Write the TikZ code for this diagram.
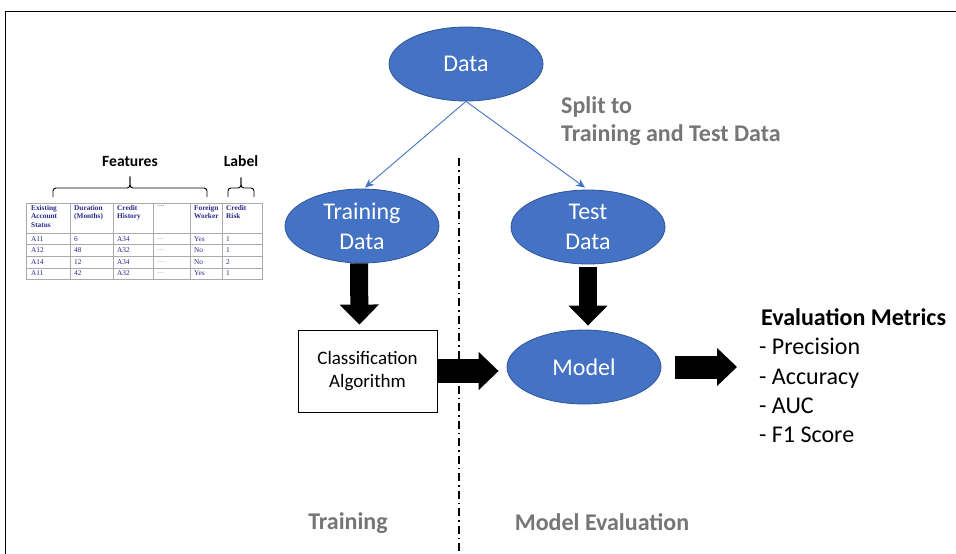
\documentclass[tikz,border=0pt]{standalone}
\usepackage{fontspec}
\setmainfont{Carlito}
\newfontfamily\tabfont{Liberation Serif}
\usetikzlibrary{shapes.geometric,arrows.meta,calc}
\definecolor{ellblue}{RGB}{68,114,196}
\definecolor{ellborder}{RGB}{47,85,151}
\definecolor{txtgray}{RGB}{118,118,118}
\definecolor{tabnavy}{RGB}{38,38,140}
\definecolor{tabdot}{RGB}{150,150,190}
\definecolor{tabline}{RGB}{170,170,170}
\tikzset{
  bluell/.style={ellipse, fill=ellblue, draw=ellborder, line width=0.8pt, minimum width=154pt, minimum height=74pt, inner sep=0pt, text=white, align=center, font=\fontsize{24}{30}\selectfont},
  splitline/.style={draw=ellblue, line width=0.9pt, -{Stealth[length=9pt,width=8pt]}},
  fatdown/.style={line width=18pt, -{Triangle[width=38pt,length=20pt]}},
  fatright/.style={line width=24pt, -{Triangle[width=37pt,length=20pt]}},
  graybold/.style={text=txtgray, font=\fontsize{24}{29}\selectfont\bfseries, inner sep=0pt, anchor=base west},
  metric/.style={font=\fontsize{24}{29}\selectfont, inner sep=0pt, anchor=base west},
  thead/.style={font=\tabfont\bfseries\fontsize{7.3}{8.7}\selectfont, text=tabnavy, inner sep=0pt, anchor=north west, align=left},
  tcell/.style={font=\tabfont\fontsize{7.3}{8}\selectfont, text=tabnavy, inner sep=0pt, anchor=west},
  tdots/.style={font=\tabfont\fontsize{7.3}{8}\selectfont, text=tabdot, inner sep=0pt, anchor=west},
}
\begin{document}
\begin{tikzpicture}[x=1pt,y=-1pt]
\useasboundingbox (0,0) rectangle (956,554);
% frame
\draw[line width=1pt] (5,554) -- (5,11) -- (956,11);

% divider
\draw[line width=1.8pt, dash pattern=on 8pt off 4pt on 1.5pt off 4pt] (459,158) coordinate (divtop) -- (459,554) coordinate (divbot);

% ellipses
\node[bluell] (data) at (466,64) {Data};
\node[bluell] (train) at (362,226) {Training\\Data};
\node[bluell] (test) at (588,227) {Test\\Data};
\node[bluell] (model) at (584,367) {Model};

% classification box
\node[draw, line width=0.8pt, minimum width=139pt, minimum height=82pt, inner sep=0pt, align=center, font=\fontsize{19}{23}\selectfont] (cls) at (367.5,371) {Classification\\Algorithm};

% split lines
\draw[splitline] (data.south) -- ($(train.north)+(3,-1)$);
\draw[splitline] (data.south) -- ($(test.north)+(-3,-2)$);

% fat arrows
\draw[fatdown, shorten >=5pt] ($(train.south)+(-3,0)$) -- ($(cls.north)+(-8,0)$);
\draw[fatdown, shorten >=4pt] ($(test.south)+(0,3)$) -- (test.south |- model.north);
\draw[fatright, shorten >=8pt] (cls.east) -- (cls.east -| model.west);
\coordinate (evalpt) at (737,367);
\draw[fatright, line width=23pt] ($(model.east)+(14,0)$) -- (evalpt);

% split text
\node[graybold] (split1) at (561,113) {Split to};
\node[graybold] (split2) at (561,141) {Training and Test Data};

% evaluation metrics
\node[metric, font=\fontsize{24}{29}\selectfont\bfseries] (em) at (761,325) {Evaluation Metrics};
\node[metric] (m1) at (759,354) {- Precision};
\node[metric] (m2) at (759,384) {- Accuracy};
\node[metric] (m3) at (759,413) {- AUC};
\node[metric] (m4) at (759,442) {- F1 Score};

% bottom labels
\node[graybold, anchor=base] (lbtrain) at (348,529) {Training};
\node[graybold, anchor=base] (lbeval) at (602,530) {Model Evaluation};

% braces and labels
\node[font=\fontsize{15.6}{18}\selectfont\bfseries, inner sep=0pt] (feat) at (130,161) {Features};
\node[font=\fontsize{15.6}{18}\selectfont\bfseries, inner sep=0pt] (lab) at (241,161) {Label};
\draw[line width=0.9pt, rounded corners=3pt] (53,197) |- (130,188) -- (130,176);
\draw[line width=0.9pt, rounded corners=3pt] (130,177) -- (130,188) -| (207,197);
\draw[line width=0.9pt, rounded corners=3pt] (228,197) |- (241,188) -- (241,177);
\draw[line width=0.9pt, rounded corners=3pt] (241,178) -- (241,188) -| (254,197);

% table grid
\draw[tabline, line width=0.8pt] (26,203) rectangle (262,279);
\foreach \yy in {233,244,256,268} \draw[tabline, line width=0.7pt] (26,\yy) -- (262,\yy);
\foreach \xx in {70,113,153,190,222} \draw[tabline, line width=0.7pt] (\xx,203) -- (\xx,279);

% table header
\node[thead] (h1) at (31,205) {Existing\\Account\\Status};
\node[thead] (h2) at (74,205) {Duration\\(Months)};
\node[thead] (h3) at (117,205) {Credit\\History};
\node[thead, text=tabdot] (h4) at (157,205) {....};
\node[thead] (h5) at (194,205) {Foreign\\Worker};
\node[thead] (h6) at (226,205) {Credit\\Risk};

% table rows
\foreach \yy/\a/\b/\c/\e/\f in {239/A11/6/A34/Yes/1, 250/A12/48/A32/No/1, 262/A14/12/A34/No/2, 273/A11/42/A32/Yes/1}{
  \node[tcell] at (31,\yy) {\a};
  \node[tcell] at (74,\yy) {\b};
  \node[tcell] at (117,\yy) {\c};
  \node[tdots] at (157,\yy) {....};
  \node[tcell] at (194,\yy) {\e};
  \node[tcell] at (226,\yy) {\f};
}
\end{tikzpicture}
\end{document}
